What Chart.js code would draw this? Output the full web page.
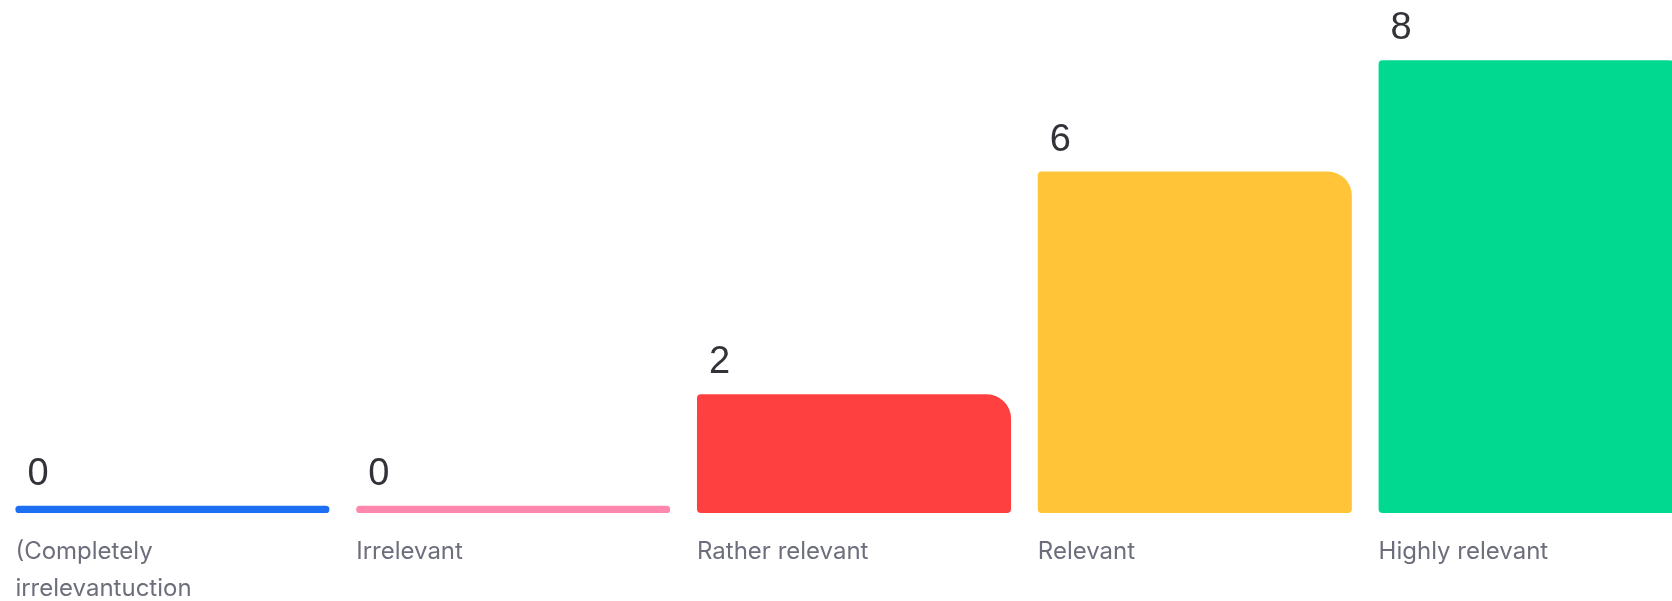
<!DOCTYPE html>
<html>
<head>
<meta charset="utf-8">
<script src="https://cdn.jsdelivr.net/npm/chart.js@4/dist/chart.umd.min.js"></script>
<style>
  html, body { margin: 0; padding: 0; background: #ffffff; overflow: hidden; width: 1672px; height: 601px; }
  #wrap { position: absolute; left: 0; top: 0; width: 1706px; height: 601px; }
</style>
</head>
<body>
<div id="wrap"><canvas id="c" width="1706" height="601"></canvas></div>
<script>
const categories = [["(Completely", "irrelevantuction"], "Irrelevant", "Rather relevant", "Relevant", "Highly relevant"];
const values = [0, 0, 2, 6, 8];
const barColors = ["#1c6ef2", "#ff86ad", "#ff4040", "#ffc437", "#00d98f"];
const valueLabels = values.map(v => String(v));

const valueLabelPlugin = {
  id: 'valueLabels',
  afterDatasetsDraw(chart) {
    const ctx = chart.ctx;
    const meta = chart.getDatasetMeta(0);
    ctx.save();
    ctx.font = '38px "Liberation Sans", Arial, sans-serif';
    ctx.fillStyle = '#323338';
    ctx.textAlign = 'left';
    ctx.textBaseline = 'alphabetic';
    meta.data.forEach((bar, i) => {
      const p = bar.getProps(['x', 'y', 'width'], true);
      ctx.fillText(valueLabels[i], p.x - p.width / 2 + 12, p.y - 21);
    });
    ctx.restore();
  }
};

new Chart(document.getElementById('c'), {
  type: 'bar',
  data: {
    labels: categories,
    datasets: [{
      data: values,
      backgroundColor: barColors,
      base: -0.13,
      borderSkipped: false,
      borderRadius: { topLeft: 4, topRight: 24, bottomLeft: 4, bottomRight: 4 },
      categoryPercentage: 1,
      barPercentage: 0.9215
    }]
  },
  options: {
    responsive: false,
    animation: false,
    devicePixelRatio: 1,
    layout: { padding: { left: 2, right: 0, top: 0, bottom: 0 } },
    plugins: { legend: { display: false }, tooltip: { enabled: false } },
    scales: {
      y: { display: false, min: -0.13, max: 9.08 },
      x: {
        grid: { display: false, drawTicks: false },
        border: { display: false },
        afterFit(scale) { scale.height = 88; scale.paddingLeft = 0; scale.paddingRight = 0; },
        ticks: {
          align: 'start',
          labelOffset: -157,
          padding: 20,
          color: '#6d6e7c',
          font: { family: 'Inter, "Noto Sans", sans-serif', size: 24, lineHeight: 1.54 },
          maxRotation: 0,
          autoSkip: false
        }
      }
    }
  },
  plugins: [valueLabelPlugin]
});
</script>
</body>
</html>
